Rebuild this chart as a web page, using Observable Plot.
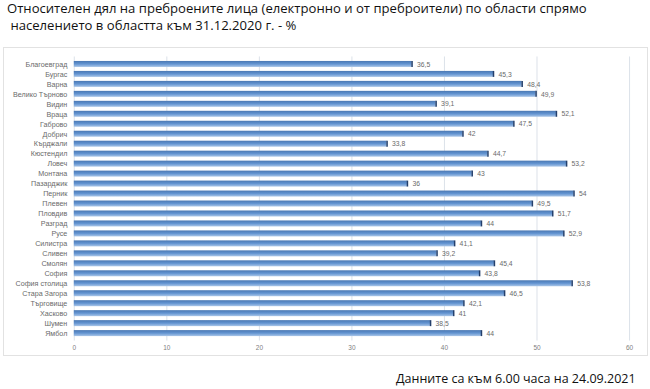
<!DOCTYPE html>
<html>
<head>
<meta charset="utf-8">
<script src="https://cdn.jsdelivr.net/npm/d3@7"></script>
<script src="https://cdn.jsdelivr.net/npm/@observablehq/plot@0.6"></script>
<style>
  html, body { margin: 0; padding: 0; background: #fff; }
  #wrap { position: relative; width: 650px; height: 389px; overflow: hidden; font-family: "Open Sans", "Noto Sans", sans-serif; }
  #title { position: absolute; left: 7px; top: 0px; font-size: 13.1px; line-height: 17px; color: #111; white-space: nowrap; }
  #chart { position: absolute; left: 3px; top: 47px; }
  #chart svg { border: 1px solid #e2e2e2; box-sizing: border-box; }
  #foot { position: absolute; left: 396px; top: 370px; font-size: 12.5px; color: #111; white-space: nowrap; }
</style>
</head>
<body>
<div id="wrap">
  <div id="title">Относителен дял на преброените лица (електронно и от преброители) по области спрямо<br>&nbsp;населението в областта към 31.12.2020 г. - %</div>
  <div id="chart"></div>
  <div id="foot">Данните са към 6.00 часа на 24.09.2021</div>
</div>
<script>
const regions = ["Благоевград","Бургас","Варна","Велико Търново","Видин","Враца","Габрово","Добрич","Кърджали","Кюстендил","Ловеч","Монтана","Пазарджик","Перник","Плевен","Пловдив","Разград","Русе","Силистра","Сливен","Смолян","София","София столица","Стара Загора","Търговище","Хасково","Шумен","Ямбол"];
const values = [36.5,45.3,48.4,49.9,39.1,52.1,47.5,42,33.8,44.7,53.2,43,36,54,49.5,51.7,44,52.9,41.1,39.2,45.4,43.8,53.8,46.5,42.1,41,38.5,44];
const xTicks = [0,10,20,30,40,50,60];

const data = regions.map((r, i) => ({region: r, value: values[i]}));
const fmt = v => String(v).replace(".", ",");

const plot = Plot.plot({
  width: 645,
  height: 308,
  marginLeft: 70,
  marginRight: 18,
  marginTop: 8.5,
  marginBottom: 14.5,
  style: {fontFamily: "'Liberation Sans', Arial, sans-serif", background: "transparent"},
  x: {domain: [0, 60], ticks: xTicks, label: null},
  y: {domain: regions, padding: 0.42, label: null},
  marks: [
    Plot.gridX(xTicks, {stroke: "#d3dbe3", strokeOpacity: 1, strokeWidth: 0.8}),
    Plot.axisX(xTicks, {tickSize: 0, tickPadding: 4, fontSize: 6.5, fill: "#808080", anchor: "bottom"}),
    Plot.axisY({tickSize: 0, tickPadding: 7, fontSize: 7.2, fill: "#6a6a6a"}),
    Plot.barX(data, {x: "value", y: "region", fill: "url(#barGrad)"}),
    Plot.tickX(data, {x: "value", y: "region", stroke: "#243f6b", strokeWidth: 1.5}),
    Plot.text(data, {x: "value", y: "region", text: d => fmt(d.value), dx: 5, textAnchor: "start", fontSize: 6.8, fill: "#6a6a6a"})
  ]
});

const defs = d3.select(plot).insert("defs", ":first-child");
const g = defs.append("linearGradient").attr("id", "barGrad").attr("x1", 0).attr("y1", 0).attr("x2", 0).attr("y2", 1);
g.append("stop").attr("offset", "0%").attr("stop-color", "#4a78b3");
g.append("stop").attr("offset", "50%").attr("stop-color", "#6394d1");
g.append("stop").attr("offset", "100%").attr("stop-color", "#aac6e8");

document.getElementById("chart").appendChild(plot);
</script>
</body>
</html>
